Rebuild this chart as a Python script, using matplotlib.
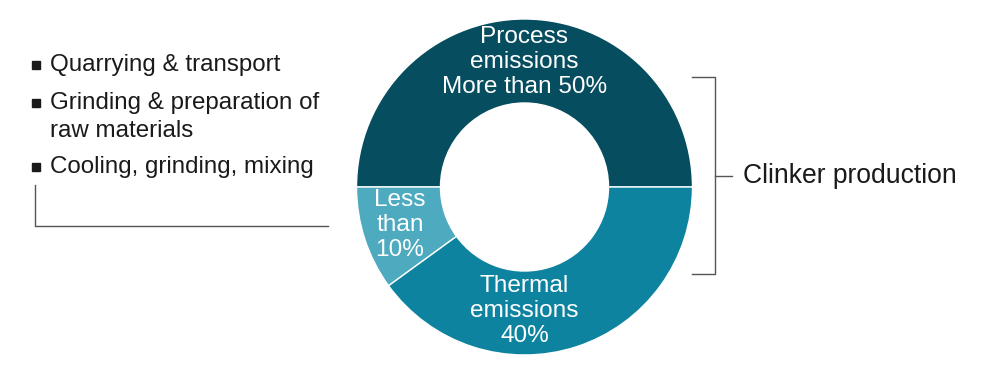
import matplotlib.pyplot as plt

plt.rcParams['font.family'] = ['Liberation Sans', 'DejaVu Sans']

# parts of the cement CO2 emissions
parts = ["Process emissions", "Less than 10%", "Thermal emissions"]
shares = [50, 10, 40]
colours = ["#064d5f", "#4eaabf", "#0e83a0"]
labels = ["Process\nemissions\nMore than 50%", "Less\nthan\n10%", "Thermal\nemissions\n40%"]

steps = ["Quarrying & transport", "Grinding & preparation of\nraw materials",
         "Cooling, grinding, mixing"]

W, H = 982, 373
fig = plt.figure(figsize=(W / 100, H / 100), dpi=100)
ax = fig.add_axes([0, 0, 1, 1])

cx, cy, r = 524.5, H - 187, 168
ax.pie(shares, colors=colours, startangle=0, counterclock=True,
       center=(cx, cy), radius=r, frame=True,
       wedgeprops=dict(width=r * 0.5, edgecolor="white", linewidth=1))
ax.set_xlim(0, W)
ax.set_ylim(0, H)
ax.set_aspect("equal")
ax.axis("off")

# labels inside the ring
fs = 17.6
ax.text(cx, H - 62, labels[0], ha="center", va="center", color="white",
        fontsize=fs, linespacing=1.2)
ax.text(400, H - 225, labels[1], ha="center", va="center", color="white",
        fontsize=fs, linespacing=1.2)
ax.text(cx, H - 311, labels[2], ha="center", va="center", color="white",
        fontsize=fs, linespacing=1.2)

# left list
ys = [65, 117, 167]
for s, y in zip(steps, ys):
    ax.text(50, H - y, s, ha="left", va="center", fontsize=17.4, color="#1a1a1a",
            linespacing=1.32)
for y in [65, 103, 167]:
    ax.plot(36, H - y, marker="s", markersize=5.2, color="#1a1a1a")
ax.plot([35, 35, 328], [H - 185, H - 226, H - 226], color="#555555", lw=1)

# bracket on the right
ax.plot([692, 715, 715, 692], [H - 77, H - 77, H - 274, H - 274], color="#555555", lw=1)
ax.plot([715, 732], [H - 176, H - 176], color="#555555", lw=1)
ax.text(743, H - 176, "Clinker production", ha="left", va="center",
        fontsize=19.1, color="#1a1a1a")

fig.savefig("out.png", dpi=100)
